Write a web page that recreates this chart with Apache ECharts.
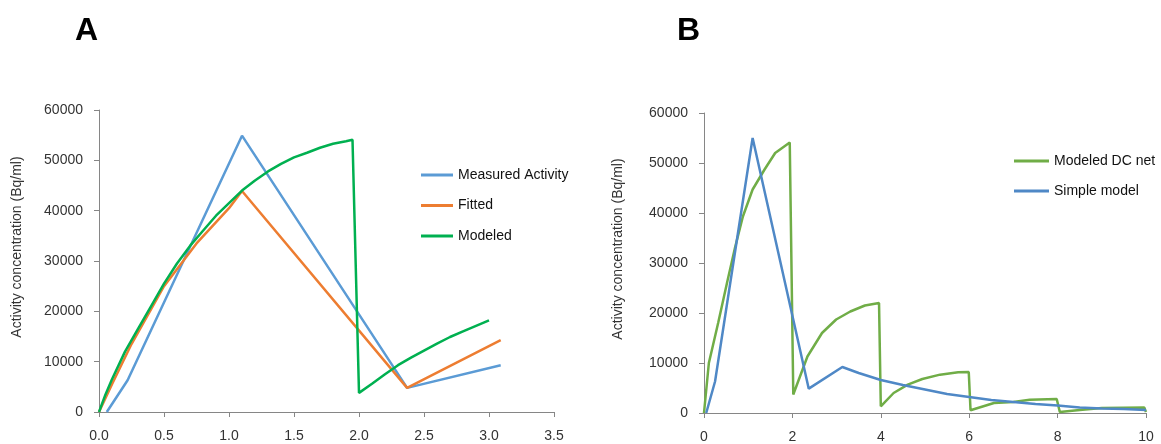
<!DOCTYPE html>
<html>
<head>
<meta charset="utf-8">
<script src="https://cdn.jsdelivr.net/npm/echarts@6/dist/echarts.min.js"></script>
<style>
html,body{margin:0;padding:0;background:#fff;}
#chart{width:1161px;height:444px;}
</style>
</head>
<body>
<div id="chart"></div>
<script>
// ---- Panel A data ----
const measuredX = [0.06, 0.22, 1.1, 2.37, 3.09];
const measuredY = [0, 6300, 54900, 4800, 9300];

const fittedX = [0, 0.1, 0.25, 0.5, 0.75, 1.0, 1.1, 2.37, 3.09];
const fittedY = [0, 5500, 13500, 25000, 33500, 40500, 43900, 4800, 14300];

const modeledX = [0, 0.05, 0.1, 0.2, 0.3, 0.4, 0.5, 0.6, 0.7, 0.8, 0.9, 1.0, 1.1, 1.2, 1.3, 1.4, 1.5, 1.6, 1.7, 1.8, 1.9, 1.95, 2.0, 2.1, 2.2, 2.3, 2.4, 2.5, 2.6, 2.7, 2.8, 2.9, 3.0];
const modeledY = [0, 3500, 6500, 12000, 16500, 21000, 25500, 29500, 33000, 36000, 39000, 41500, 44000, 46000, 47800, 49300, 50600, 51500, 52500, 53300, 53800, 54100, 3800, 5600, 7500, 9300, 10800, 12200, 13600, 14900, 16000, 17100, 18200];

// ---- Panel B data ----
const dcNetX = [0, 0.11, 0.32, 0.52, 0.7, 0.88, 1.1, 1.37, 1.61, 1.94, 2.02, 2.34, 2.67, 2.99, 3.31, 3.64, 3.96, 4.0, 4.29, 4.61, 4.94, 5.34, 5.75, 5.99, 6.03, 6.56, 7.0, 7.37, 7.98, 8.05, 8.5, 9.0, 9.5, 9.96, 10.0];
const dcNetY = [0, 10000, 18000, 26000, 33000, 39300, 44700, 48700, 52000, 54100, 3700, 11300, 16000, 18700, 20300, 21500, 22000, 1330, 4000, 5670, 6800, 7670, 8130, 8200, 550, 2000, 2200, 2670, 2800, 200, 600, 1000, 1050, 1100, 200];

const simpleX = [0.05, 0.25, 1.1, 2.37, 3.13, 3.5, 4.0, 4.5, 5.0, 5.5, 6.0, 6.5, 7.0, 7.5, 8.0, 8.5, 9.0, 9.5, 10.0];
const simpleY = [0, 6300, 55000, 4870, 9200, 8000, 6600, 5600, 4700, 3800, 3200, 2600, 2200, 1800, 1500, 1100, 900, 800, 600];

// ---- tick labels / names ----
const yTicks = [0, 10000, 20000, 30000, 40000, 50000, 60000];
const xTicksA = [0, 0.5, 1.0, 1.5, 2.0, 2.5, 3.0, 3.5];
const xTicksB = [0, 2, 4, 6, 8, 10];
const yName = 'Activity concentration (Bq/ml)';
const panelTitles = ['A', 'B'];

const pair = (xs, ys) => xs.map((x, i) => [x, ys[i]]);

const FONT = '"Liberation Sans", Arial, sans-serif';
const AXIS_COLOR = '#868686';
const TEXT_COLOR = '#333333';

function xAxisCfg(grid, ticks, fmt) {
  return {
    type: 'value', gridIndex: grid,
    min: ticks[0], max: ticks[ticks.length - 1], interval: ticks[1] - ticks[0],
    axisLine: { show: true, onZero: false, lineStyle: { color: AXIS_COLOR, width: 1 } },
    axisTick: { show: true, length: 5, lineStyle: { color: AXIS_COLOR } },
    axisLabel: { color: TEXT_COLOR, fontSize: 14, fontFamily: FONT, margin: 17, formatter: fmt },
    splitLine: { show: false }
  };
}
function yAxisCfg(grid, gap) {
  return {
    type: 'value', gridIndex: grid,
    min: yTicks[0], max: yTicks[yTicks.length - 1], interval: yTicks[1] - yTicks[0],
    name: yName, nameLocation: 'middle', nameGap: gap,
    nameTextStyle: { color: TEXT_COLOR, fontSize: 14, fontFamily: FONT, padding: [0, 0, 0, 28] },
    axisLine: { show: true, onZero: false, lineStyle: { color: AXIS_COLOR, width: 1 } },
    axisTick: { show: true, length: 5, lineStyle: { color: AXIS_COLOR } },
    axisLabel: { color: TEXT_COLOR, fontSize: 14, fontFamily: FONT, margin: 16, formatter: v => String(v) },
    splitLine: { show: false }
  };
}
function lineSeries(name, xi, data, color, width) {
  return {
    name: name, type: 'line', xAxisIndex: xi, yAxisIndex: xi,
    data: data, symbol: 'none', showSymbol: false, smooth: false,
    lineStyle: { color: color, width: width }, itemStyle: { color: color },
    emphasis: { disabled: true }
  };
}

const chart = echarts.init(document.getElementById('chart'), null, { renderer: 'canvas' });
chart.setOption({
  animation: false,
  backgroundColor: '#ffffff',
  textStyle: { fontFamily: FONT },
  graphic: [
    { type: 'text', left: 75, top: 15, style: { text: panelTitles[0], font: 'bold 32px ' + FONT, fill: '#000' } },
    { type: 'text', left: 677, top: 15, style: { text: panelTitles[1], font: 'bold 32px ' + FONT, fill: '#000' } }
  ],
  grid: [
    { left: 99, top: 110, width: 455, height: 302 },
    { left: 704, top: 113, width: 442, height: 300 }
  ],
  legend: [
    {
      data: ['Measured Activity', 'Fitted', 'Modeled'],
      orient: 'vertical', left: 421, top: 167, padding: 0,
      itemWidth: 32, itemHeight: 3, itemGap: 14.5, icon: 'rect',
      textStyle: { color: '#111', fontSize: 14, fontFamily: FONT, lineHeight: 16 }
    },
    {
      data: ['Modeled DC net', 'Simple model'],
      orient: 'vertical', left: 1014, top: 153, padding: 0,
      itemWidth: 35, itemHeight: 3, itemGap: 14, icon: 'rect',
      textStyle: { color: '#111', fontSize: 14, fontFamily: FONT, lineHeight: 16 }
    }
  ],
  xAxis: [
    xAxisCfg(0, xTicksA, v => v.toFixed(1)),
    xAxisCfg(1, xTicksB, v => String(v))
  ],
  yAxis: [
    yAxisCfg(0, 75),
    yAxisCfg(1, 79)
  ],
  series: [
    lineSeries('Measured Activity', 0, pair(measuredX, measuredY), '#5B9BD5', 2.5),
    lineSeries('Fitted', 0, pair(fittedX, fittedY), '#ED7D31', 2.5),
    lineSeries('Modeled', 0, pair(modeledX, modeledY), '#00B050', 2.5),
    lineSeries('Modeled DC net', 1, pair(dcNetX, dcNetY), '#70AD47', 2.5),
    lineSeries('Simple model', 1, pair(simpleX, simpleY), '#4F88C6', 2.5)
  ]
});
</script>
</body>
</html>
